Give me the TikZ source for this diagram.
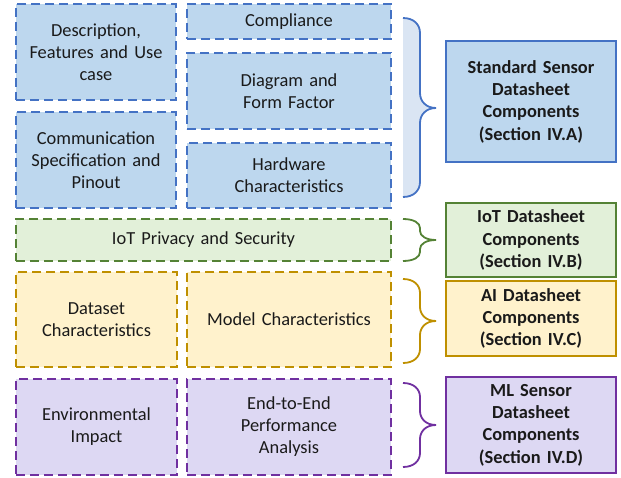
\documentclass[tikz,border=0pt]{standalone}
\usepackage{fontspec}
\setmainfont{Carlito}
\definecolor{bB}{HTML}{4472C4}\definecolor{bF}{HTML}{BDD7EE}\definecolor{bL}{HTML}{DAE5F3}
\definecolor{gB}{HTML}{548235}\definecolor{gF}{HTML}{E2F0D9}
\definecolor{yB}{HTML}{BF9000}\definecolor{yF}{HTML}{FFF2CC}
\definecolor{pB}{HTML}{7030A0}\definecolor{pF}{HTML}{DDD8F3}
\definecolor{txt}{HTML}{1A1A1A}
\newcommand{\mybrace}[6]{% T, mid, B, r, color, fill
  \fill[#6] (403,#1) .. controls (414,#1) and (420,{#1+0.45*#4}) .. (420,{#1+#4})
    -- (420,{#2-#4}) .. controls (420,{#2-0.45*#4}) and (426,#2) .. (436,#2)
    .. controls (426,#2) and (420,{#2+0.45*#4}) .. (420,{#2+#4})
    -- (420,{#3-#4}) .. controls (420,{#3-0.45*#4}) and (414,#3) .. (403,#3) -- cycle;
  \draw[#5,line width=1.8pt] (403,#1) .. controls (414,#1) and (420,{#1+0.45*#4}) .. (420,{#1+#4})
    -- (420,{#2-#4}) .. controls (420,{#2-0.45*#4}) and (426,#2) .. (436,#2)
    .. controls (426,#2) and (420,{#2+0.45*#4}) .. (420,{#2+#4})
    -- (420,{#3-#4}) .. controls (420,{#3-0.45*#4}) and (414,#3) .. (403,#3);}
\begin{document}
\begin{tikzpicture}[x=1pt,y=-1pt,
  comp/.style={draw=#1B,fill=#1F,line width=2.2pt,dash pattern=on 9pt off 5pt,
    align=center,font=\fontsize{18.4}{22}\selectfont,text=txt,inner sep=0pt,text width=156pt},
  cat/.style={draw=#1B,fill=#1F,line width=2.4pt,align=center,
    font=\fontsize{18.4}{22.3}\selectfont\bfseries,text=txt,inner sep=0pt,text width=166pt,
    minimum width=170pt}]
\useasboundingbox (0,0) rectangle (621,478);
% blue
\node[comp=b,minimum width=160pt,minimum height=96pt] (desc) at (96,52) {Description,\\Features and Use\\case};
\node[comp=b,minimum width=204pt,minimum height=35pt] (compl) at (289,21.5) {Compliance};
\node[comp=b,minimum width=204pt,minimum height=76pt] (diag) at (289,91) {Diagram and\\Form Factor};
\node[comp=b,minimum width=160pt,minimum height=96pt] (comm) at (96,160) {Communication\\Specification and\\Pinout};
\node[comp=b,minimum width=204pt,minimum height=65pt] (hw) at (289,175.5) {Hardware\\Characteristics};
% green
\node[comp=g,minimum width=375pt,minimum height=42pt,text width=360pt] (iot) at (203.5,240) {IoT Privacy and Security};
% yellow
\node[comp=y,minimum width=161pt,minimum height=95pt] (data) at (96.5,319.5) {Dataset\\Characteristics};
\node[comp=y,minimum width=204pt,minimum height=95pt,text width=195pt] (model) at (289,319.5) {Model Characteristics};
% purple
\node[comp=p,minimum width=161pt,minimum height=96pt] (env) at (96.5,427) {Environmental\\Impact};
\node[comp=p,minimum width=204pt,minimum height=96pt] (e2e) at (289,427) {End-to-End\\Performance\\Analysis};
% braces
\mybrace{18}{108}{197}{15}{bB}{bL}
\mybrace{219}{240}{261}{9}{gB}{white}
\mybrace{279}{321}{363}{14}{yB}{white}
\mybrace{383}{425}{467}{14}{pB}{white}
% categories
\node[cat=b,minimum height=121pt] (catA) at (531,101.5) {Standard Sensor\\Datasheet\\Components\\(Section IV.A)};
\node[cat=g,minimum height=74pt] (catB) at (531,240) {IoT Datasheet\\Components\\(Section IV.B)};
\node[cat=y,minimum height=75pt] (catC) at (531,318.5) {AI Datasheet\\Components\\(Section IV.C)};
\node[cat=p,minimum height=96pt] (catD) at (531,425) {ML Sensor\\Datasheet\\Components\\(Section IV.D)};
\end{tikzpicture}
\end{document}
